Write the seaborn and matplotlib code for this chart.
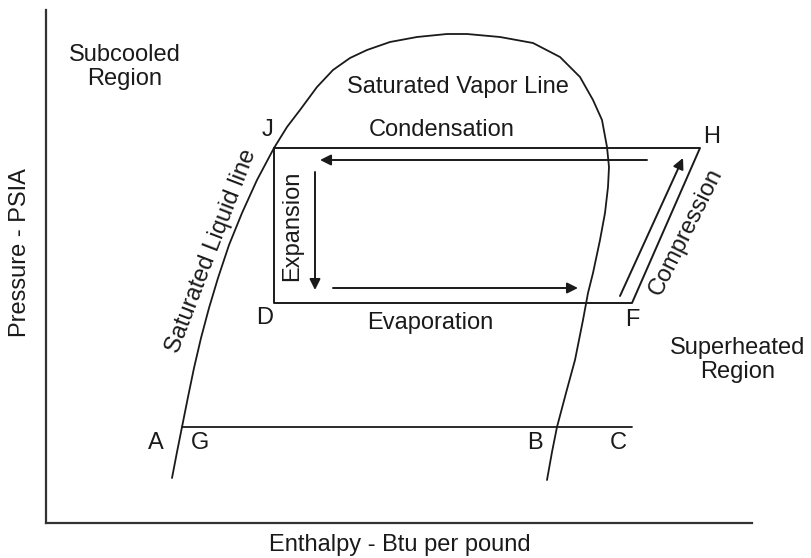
import numpy as np
import pandas as pd
import matplotlib
matplotlib.use("Agg")
import matplotlib.pyplot as plt
import seaborn as sns

sns.set_style("white")
plt.rcParams['font.family'] = ['Liberation Sans', 'DejaVu Sans']

# saturation dome (enthalpy, pressure) in chart units, liquid side then vapor side
dome_h = [126, 131, 136, 142, 148, 155, 163, 172, 183, 196, 211, 228, 241, 254, 271, 287, 304, 321, 344, 371,
          401, 421, 454, 487, 514, 534, 547, 556, 561, 563, 562, 559, 554, 547, 542, 537, 529, 520, 511, 506, 501]
dome_p = [45, 71, 96, 126, 155, 185, 215, 245, 278, 310, 343, 375, 396, 413, 436, 453, 465, 473, 481, 486,
          489, 489, 486, 480, 466, 446, 423, 403, 376, 356, 336, 310, 283, 250, 230, 203, 163, 130, 96, 71, 43]

# refrigeration cycle J -> H -> F -> D -> J
cycle_pts = ["J", "H", "F", "D", "J"]
cycle_h = [228, 654, 586, 228, 228]
cycle_p = [375, 375, 220, 220, 375]

# wet region line G..C
wet_h = [136, 586]
wet_p = [96, 96]

# process arrows: (h_start, p_start, h_end, p_end)
arrows = {
    "condensation": (601, 363, 274, 363),
    "expansion": (269, 351, 269, 233),
    "evaporation": (287, 235, 532, 235),
    "compression": (574, 227, 637, 365),
}

point_labels = ["J", "H", "D", "F", "A", "G", "B", "C"]
point_h = [222, 666, 219, 586, 110, 154, 489, 572]
point_p = [393, 386, 205, 203, 80, 80, 80, 80]

ink = "#1a1a1a"
fs = 17

fig = plt.figure(figsize=(8.12, 5.58), dpi=100)
ax = fig.add_axes([46 / 812, 35 / 558, 706 / 812, 513 / 558])
ax.set_xlim(0, 706)
ax.set_ylim(0, 513)

dome = pd.DataFrame({"h": dome_h, "p": dome_p})
sns.lineplot(data=dome, x="h", y="p", sort=False, estimator=None, color=ink, lw=1.3, ax=ax)
cyc = pd.DataFrame({"h": cycle_h, "p": cycle_p})
sns.lineplot(data=cyc, x="h", y="p", sort=False, estimator=None, color=ink, lw=1.4, ax=ax)
sns.lineplot(x=wet_h, y=wet_p, estimator=None, color=ink, lw=1.3, ax=ax)

for name, (h0, p0, h1, p1) in arrows.items():
    ax.annotate("", xy=(h1, p1), xytext=(h0, p0),
                arrowprops=dict(arrowstyle="-|>", color=ink, lw=1.4,
                                mutation_scale=16, shrinkA=0, shrinkB=0))

for lab, h, p in zip(point_labels, point_h, point_p):
    ax.text(h, p, lab, fontsize=fs, color=ink, ha="center", va="center")

ax.text(79, 456, "Subcooled\nRegion", fontsize=fs, color=ink, ha="center", va="center", linespacing=1.1)
ax.text(412, 436, "Saturated Vapor Line", fontsize=fs, color=ink, ha="center", va="center")
ax.text(396, 393, "Condensation", fontsize=fs, color=ink, ha="center", va="center")
ax.text(246, 297, "Expansion", fontsize=fs, color=ink, ha="center", va="center", rotation=90)
ax.text(384, 200, "Evaporation", fontsize=fs, color=ink, ha="center", va="center")
ax.text(640, 291, "Compression", fontsize=fs, color=ink, ha="center", va="center", rotation=63.5)
ax.text(165, 272, "Saturated Liquid line", fontsize=fs, color=ink, ha="center", va="center", rotation=69)
ax.text(692, 163, "Superheated\nRegion", fontsize=fs, color=ink, ha="center", va="center",
        linespacing=1.1, clip_on=False)

ax.set_xticks([])
ax.set_yticks([])
ax.set_xlabel("")
ax.set_ylabel("")
sns.despine(ax=ax)
for s in ["left", "bottom"]:
    ax.spines[s].set_color("#333333")
    ax.spines[s].set_linewidth(1.6)

fig.text(400 / 812, 1 - 545 / 558, "Enthalpy - Btu per pound", fontsize=fs, color=ink,
         ha="center", va="center")
fig.text(20 / 812, 1 - 253 / 558, "Pressure - PSIA", fontsize=fs, color=ink,
         ha="center", va="center", rotation=90)

fig.savefig("out.png", dpi=100, facecolor="white")
